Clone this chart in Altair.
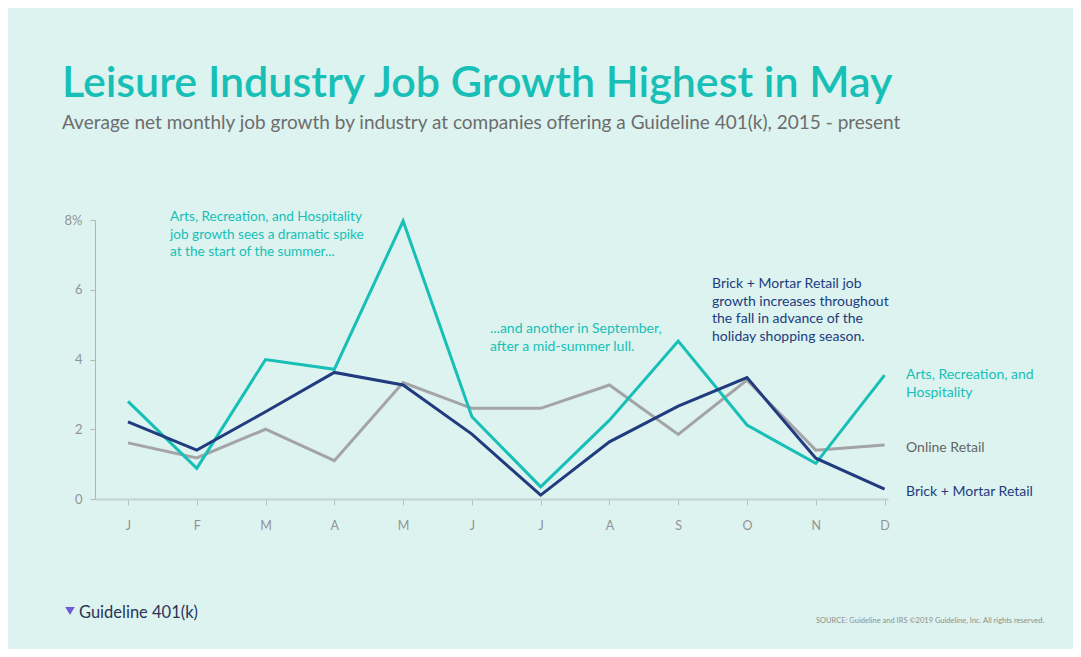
import json
import altair as alt
import pandas as pd

months = ["J", "F", "M", "A", "M", "J", "J", "A", "S", "O", "N", "D"]
arts = [2.80, 0.88, 4.00, 3.72, 7.97, 2.36, 0.35, 2.26, 4.53, 2.12, 1.02, 3.55]
brick = [2.21, 1.40, 2.50, 3.63, 3.27, 1.86, 0.11, 1.64, 2.66, 3.48, 1.17, 0.28]
online = [1.61, 1.18, 2.00, 1.10, 3.34, 2.60, 2.60, 3.27, 1.85, 3.41, 1.40, 1.55]
y_ticks = [0, 2, 4, 6, 8]

series_names = ["Online Retail", "Arts, Recreation, and Hospitality", "Brick + Mortar Retail"]
series_colors = ["#a4a4a7", "#17bfb6", "#213b7e"]

title = "Leisure Industry Job Growth Highest in May"
subtitle = "Average net monthly job growth by industry at companies offering a Guideline 401(k), 2015 - present"
note1 = ["Arts, Recreation, and Hospitality", "job growth sees a dramatic spike", "at the start of the summer..."]
note2 = ["...and another in September,", "after a mid-summer lull."]
note3 = ["Brick + Mortar Retail job", "growth increases throughout", "the fall in advance of the", "holiday shopping season."]
source = "SOURCE: Guideline and IRS  \u00a92019 Guideline, Inc. All rights reserved."

TEAL, NAVY, GRAY_T = "#17bfb6", "#213b7e", "#666666"
FONT = "Lato"

df = pd.DataFrame({"m": list(range(12)), "arts": arts, "brick": brick, "online": online})

W, H = 793, 279
x_scale = alt.Scale(domain=[-0.48, 11.05], nice=False, zero=False)
y_scale = alt.Scale(domain=[0, 8], nice=False)

x_axis = alt.Axis(
    values=list(range(12)),
    labelExpr=json.dumps(months) + "[datum.value]",
    title=None, grid=False,
    domainColor="#c3d3d1", domainWidth=2,
    tickColor="#b7c3c2", tickSize=6, tickWidth=1,
    labelColor="#939393", labelFontSize=12.5, labelPadding=14, labelFont=FONT,
)
y_axis = alt.Axis(
    values=y_ticks,
    labelExpr="datum.value == 8 ? '8%' : datum.value",
    title=None, grid=False,
    domainColor="#b3b3b3", domainWidth=1,
    tickColor="#b3b3b3", tickSize=5,
    labelColor="#939393", labelFontSize=13, labelPadding=8, labelFont=FONT,
)

def line(field, color):
    return alt.Chart(df).mark_line(color=color, strokeWidth=3, strokeJoin="miter").encode(
        x=alt.X("m:Q", scale=x_scale, axis=x_axis),
        y=alt.Y(f"{field}:Q", scale=y_scale, axis=y_axis),
    )

one = pd.DataFrame({"a": [0]})

def text(t, x, y, size, color, weight="normal", lh=17.5):
    return alt.Chart(one).mark_text(
        text=t, align="left", baseline="alphabetic", font=FONT, fontSize=size,
        color=color, fontWeight=weight, lineHeight=lh,
    ).encode(x=alt.value(x), y=alt.value(y))

icon = alt.Chart(one).mark_point(shape="triangle-down", filled=True, color="#6d5ad8", size=90, opacity=1).encode(
    x=alt.value(-25), y=alt.value(391))

layers = [
    line("online", series_colors[0]),
    line("arts", series_colors[1]),
    line("brick", series_colors[2]),
    text(title, -33, -123, 43, TEAL, 600),
    text(subtitle, -33, -91, 19, "#6d6d6d"),
    text(note1, 75, 1, 13.6, TEAL),
    text(note2, 395, 113, 14, TEAL),
    text(note3, 617, 68, 14, NAVY),
    text(["Arts, Recreation, and", "Hospitality"], 811, 159, 14, TEAL),
    text("Online Retail", 811, 232, 14, GRAY_T),
    text("Brick + Mortar Retail", 811, 276, 14, NAVY),
    text("Guideline 401(k)", -16, 398, 16.5, "#2b3358"),
    icon,
    text(source, 721, 403, 7.5, "#8f8f8f"),
]

chart = alt.layer(*layers).properties(
    width=W, height=H,
    autosize=alt.AutoSizeParams(type="none"),
    padding={"left": 87, "top": 212, "right": 185, "bottom": 150},
    background="#dcf3f0",
).configure_view(stroke=None)

chart.save("out.html", embed_options={"renderer": "svg", "actions": False})
